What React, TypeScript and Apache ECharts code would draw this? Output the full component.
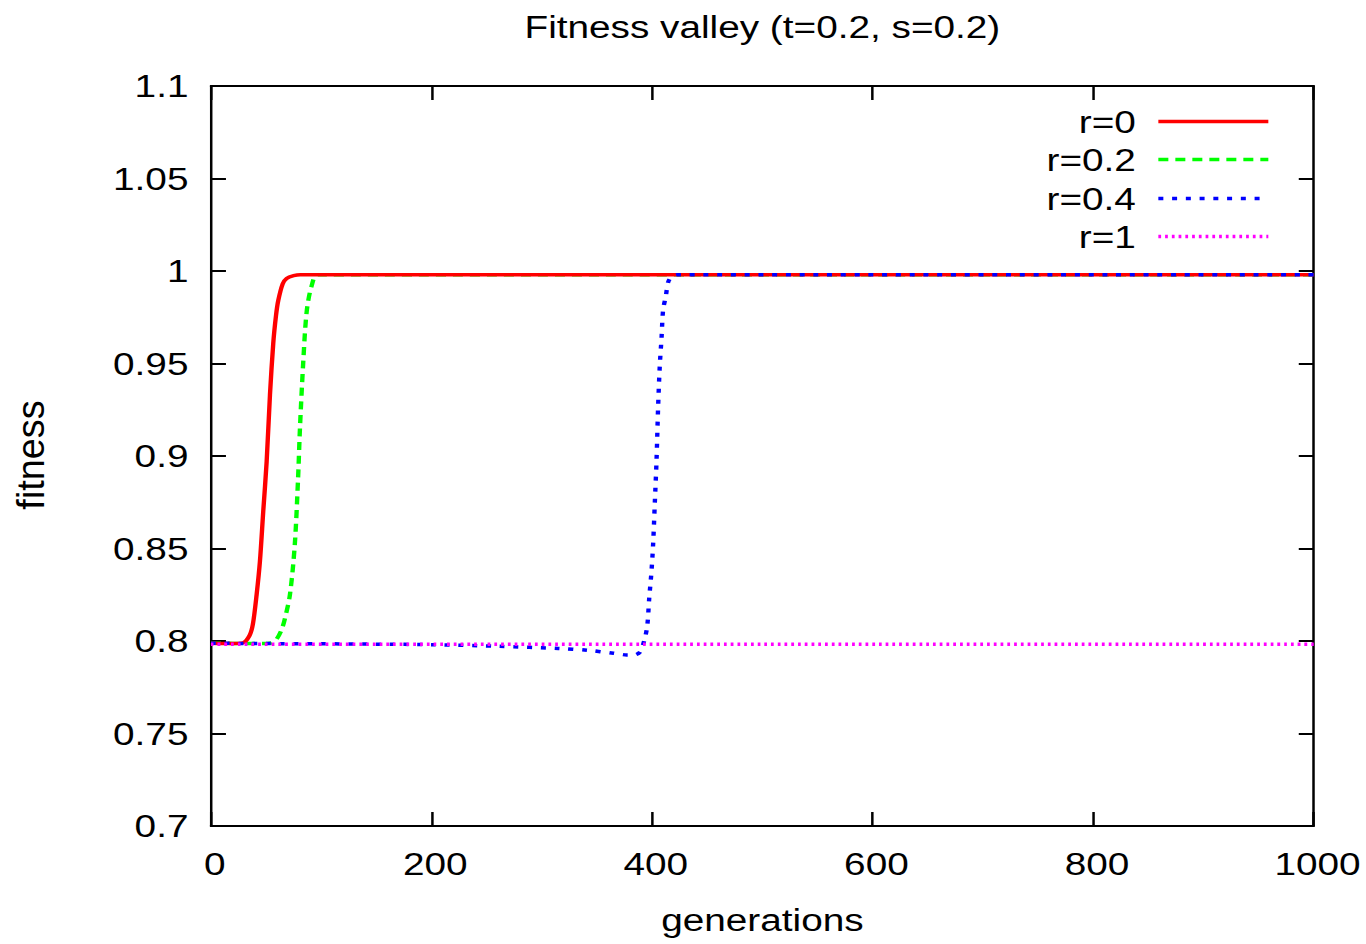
import React, { useEffect, useRef } from "react";
import * as echarts from "echarts";

const TITLE = "Fitness valley (t=0.2, s=0.2)";
const X_NAME = "generations";
const Y_NAME = "fitness";

const seriesNames = ["r=0", "r=0.2", "r=0.4", "r=1"];
const seriesColors = ["#ff0000", "#00ff00", "#0000ff", "#ff00ff"];

const gensR0 = [0, 10, 20, 29, 35, 38, 41.4, 44.4, 47.4, 50.5, 53.5, 56.5, 59, 61, 65, 68.6, 75, 81, 1000];
const fitR0 = [0.7988, 0.7987, 0.7987, 0.799, 0.803, 0.809, 0.825, 0.843, 0.87, 0.897, 0.933, 0.961, 0.976, 0.984, 0.993, 0.996, 0.9975, 0.998, 0.998];

const gensR02 = [0, 20, 40, 50.5, 55, 59.5, 64, 67, 71.6, 76, 79, 80.7, 83.7, 86.8, 91.3, 97.3, 1000];
const fitR02 = [0.7988, 0.7987, 0.7986, 0.7987, 0.799, 0.801, 0.806, 0.812, 0.825, 0.852, 0.888, 0.915, 0.951, 0.978, 0.992, 0.998, 0.998];

const gensR04 = [0, 50, 100, 150, 201, 262, 315, 341, 365, 377, 384, 389, 393, 395.6, 397.4, 399.5, 401, 402.5, 404, 405.5, 407, 408.6, 410, 412.5, 414.6, 418, 423.6, 1000];
const fitR04 = [0.7988, 0.7986, 0.7985, 0.7983, 0.798, 0.7971, 0.796, 0.795, 0.7934, 0.7925, 0.7925, 0.794, 0.8005, 0.808, 0.823, 0.838, 0.853, 0.875, 0.897, 0.927, 0.949, 0.964, 0.979, 0.9865, 0.994, 0.997, 0.998, 0.998];

const gensR1 = [0, 500, 1000];
const fitR1 = [0.7982, 0.7982, 0.7982];

const xTicks = { min: 0, max: 1000, interval: 200 };
const yTicks = { min: 0.7, max: 1.1, interval: 0.05 };

const FONT = "'Liberation Sans', Arial, Helvetica, sans-serif";
const INNER_W = 1093;
const H = 944;
const FS = 31;

function pairs(xs: number[], ys: number[]) {
  return xs.map((x, i) => [x, ys[i]]);
}

export default function App() {
  const ref = useRef<HTMLDivElement>(null);
  useEffect(() => {
    if (!ref.current) return;
    const chart = echarts.init(ref.current, undefined, { renderer: "svg" });
    const allData = [
      pairs(gensR0, fitR0),
      pairs(gensR02, fitR02),
      pairs(gensR04, fitR04),
      pairs(gensR1, fitR1),
    ];
    const dashes: any[] = ["solid", [8, 5.6], [4, 7], [2.2, 3.2]];
    const zs = [3, 2, 4, 5];
    const axisLine = { show: true, onZero: false, lineStyle: { color: "#000", width: 2 } };
    const labelStyle = { color: "#000", fontSize: FS, fontFamily: FONT };
    const legendTops = [106, 144, 183, 221];
    const option: any = {
      animation: false,
      backgroundColor: "#fff",
      title: {
        text: TITLE,
        left: 605,
        textAlign: "center",
        top: 6,
        textStyle: { color: "#000", fontSize: FS, fontWeight: "normal", fontFamily: FONT },
      },
      graphic: [
        {
          type: "text",
          x: 24,
          y: 455,
          rotation: Math.PI / 2,
          scaleX: 1.22,
          style: {
            text: Y_NAME,
            fill: "#000",
            font: `${FS}px ${FONT}`,
            align: "center",
            verticalAlign: "middle",
          },
        },
      ],
      legend: seriesNames.map((n, i) => ({
        data: [n],
        orient: "vertical",
        right: 76.4,
        top: legendTops[i],
        align: "right",
        padding: 0,
        itemWidth: 88,
        itemHeight: 14,
        selectedMode: false,
        itemStyle: { opacity: 0 },
        lineStyle: { width: 3.5 },
        textStyle: { color: "#000", fontSize: FS, fontFamily: FONT, padding: [0, 13, 0, 0] },
      })),
      grid: { left: 168.8, right: 41.8, top: 86, bottom: 118, containLabel: false },
      xAxis: [
        {
          type: "value",
          position: "bottom",
          ...xTicks,
          name: X_NAME,
          nameLocation: "middle",
          nameGap: 78,
          nameTextStyle: labelStyle,
          axisLine,
          axisTick: { show: true, inside: true, length: 14, lineStyle: { color: "#000", width: 2 } },
          axisLabel: { ...labelStyle, margin: 22, padding: [0, 0, 0, 6], formatter: (v: number) => String(v) },
          splitLine: { show: false },
        },
        {
          type: "value",
          position: "top",
          ...xTicks,
          axisLine,
          axisTick: { show: true, inside: true, length: 14, lineStyle: { color: "#000", width: 2 } },
          axisLabel: { show: false },
          splitLine: { show: false },
        },
      ],
      yAxis: [
        {
          type: "value",
          position: "left",
          ...yTicks,
          axisLine,
          axisTick: { show: true, inside: true, length: 12, lineStyle: { color: "#000", width: 2 } },
          axisLabel: {
            ...labelStyle,
            margin: 18,
            formatter: (v: number) => String(parseFloat(v.toFixed(2))),
          },
          splitLine: { show: false },
        },
        {
          type: "value",
          position: "right",
          ...yTicks,
          axisLine,
          axisTick: { show: true, inside: true, length: 12, lineStyle: { color: "#000", width: 2 } },
          axisLabel: { show: false },
          splitLine: { show: false },
        },
      ],
      series: seriesNames.map((n, i) => ({
        name: n,
        type: "line",
        xAxisIndex: 0,
        yAxisIndex: 0,
        data: allData[i],
        showSymbol: false,
        symbol: "none",
        smooth: 0.3,
        z: zs[i],
        itemStyle: { color: seriesColors[i] },
        lineStyle: { color: seriesColors[i], width: 3.5, type: dashes[i], cap: "butt" },
      })),
    };
    chart.setOption(option);
    return () => chart.dispose();
  }, []);
  return (
    <div style={{ position: "absolute", left: 0, top: 0, width: 1366, height: H, overflow: "hidden", background: "#fff" }}>
      <div
        ref={ref}
        style={{ width: INNER_W, height: H, transform: `scaleX(${1366 / INNER_W})`, transformOrigin: "0 0" }}
      />
    </div>
  );
}
